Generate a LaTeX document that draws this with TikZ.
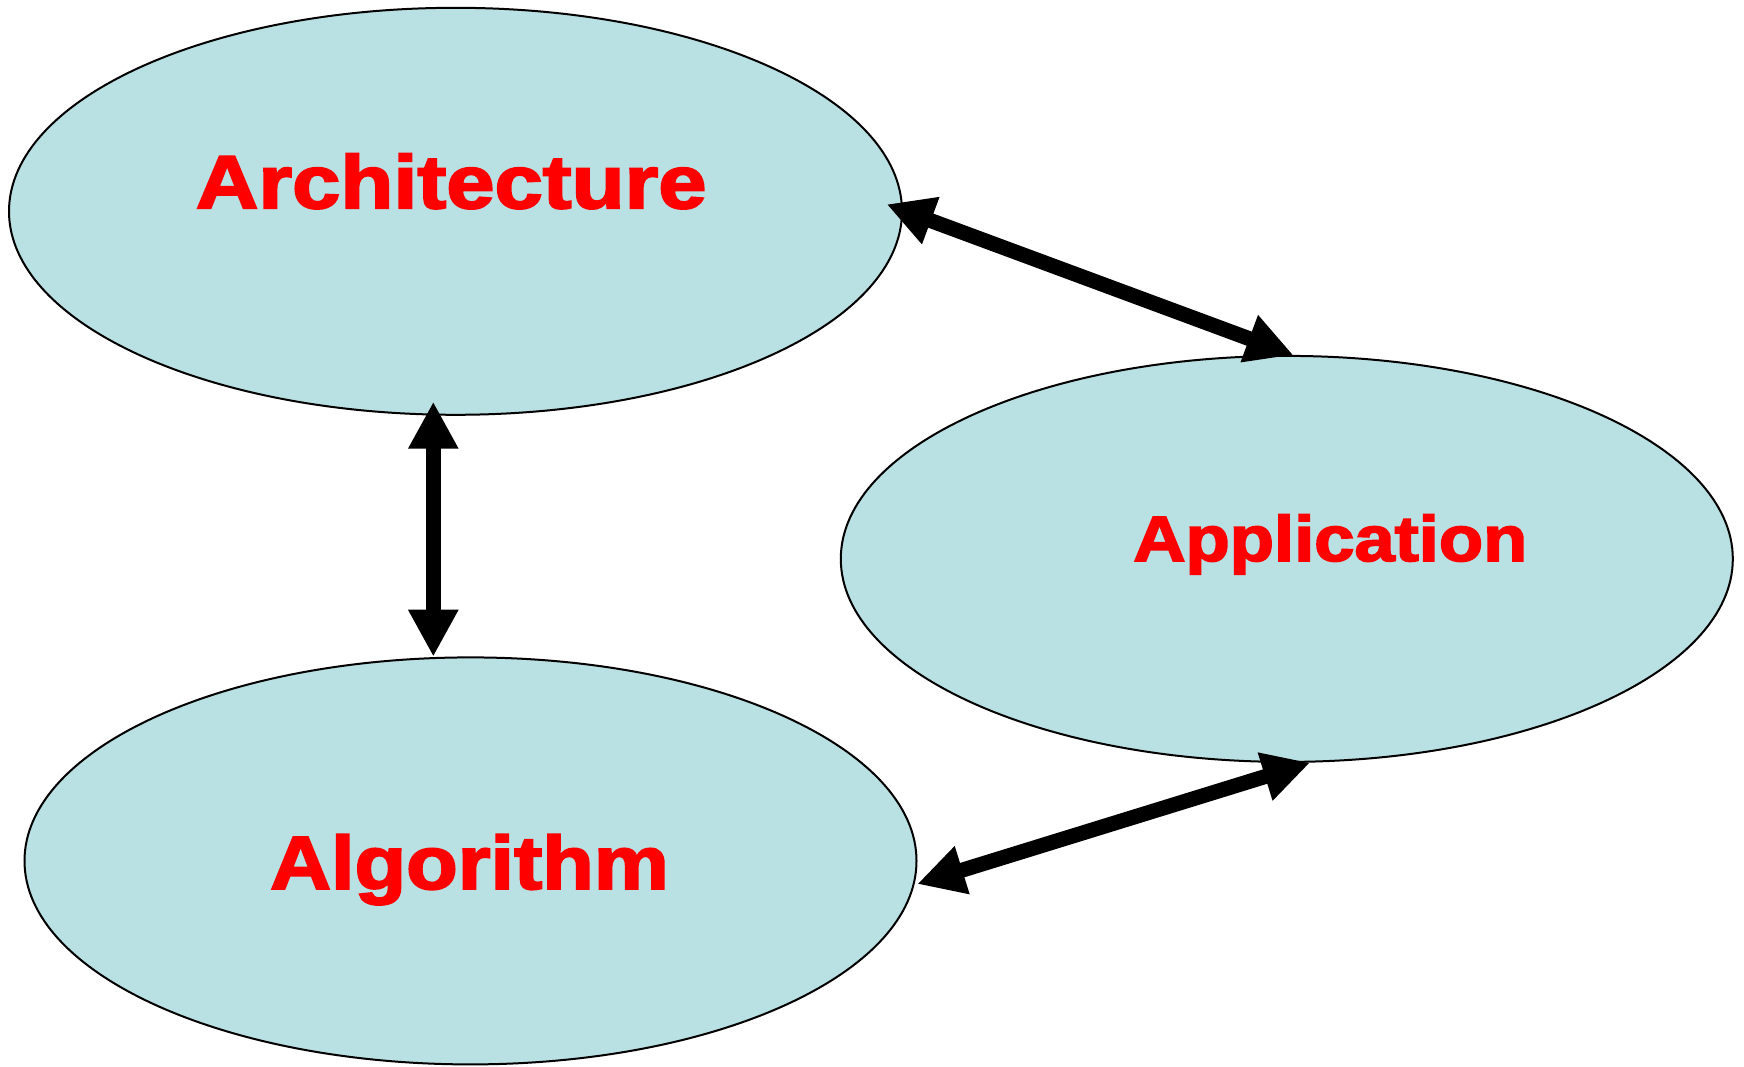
\documentclass[tikz,border=0pt]{standalone}
\usepackage{fontspec}
\usepackage{graphicx}
\setmainfont{Liberation Sans}[BoldFont={Liberation Sans Bold},BoldFeatures={FakeBold=2.5}]
\usetikzlibrary{shapes.geometric,arrows.meta}
\definecolor{ellfill}{RGB}{185,224,227}
\tikzset{
  blob/.style={ellipse, draw=black, line width=2pt, fill=ellfill, inner sep=0pt},
  lbl/.style={anchor=base, inner sep=0pt, text=red, font=\bfseries},
  link/.style={line width=15pt, {Triangle[length=47pt,width=47pt]}-{Triangle[length=47pt,width=47pt]}}
}
\begin{document}
\begin{tikzpicture}[x=1pt,y=-1pt]
\useasboundingbox (0,0) rectangle (1744,1067);
\node[blob, minimum width=893pt, minimum height=407pt] (arch) at (455.5,211.3) {};
\node[blob, minimum width=892pt, minimum height=406pt] (app) at (1286.8,558.9) {};
\node[blob, minimum width=892pt, minimum height=407pt] (alg) at (470.5,860.9) {};
\node[lbl, font=\bfseries\fontsize{75.4}{80}\selectfont] (archt) at (451.2,208.3) {\scalebox{1.15}[1]{Architecture}};
\node[lbl, font=\bfseries\fontsize{64.2}{70}\selectfont] (appt) at (1330.3,561) {\scalebox{1.127}[1]{Application}};
\node[lbl, font=\bfseries\fontsize{75.4}{80}\selectfont] (algt) at (469.5,889) {\scalebox{1.12}[1]{Algorithm}};
\coordinate (a1) at (433.3,401.7);
\coordinate (g1) at (433.3,656.7);
\coordinate (a2) at (886.7,204.3);
\coordinate (p2) at (1293.3,355);
\coordinate (g3) at (917.3,884);
\coordinate (p3) at (1310,762.7);
\draw[link] (a1) -- (g1);
\draw[link] (a2) -- (p2);
\draw[link] (g3) -- (p3);
\end{tikzpicture}
\end{document}
